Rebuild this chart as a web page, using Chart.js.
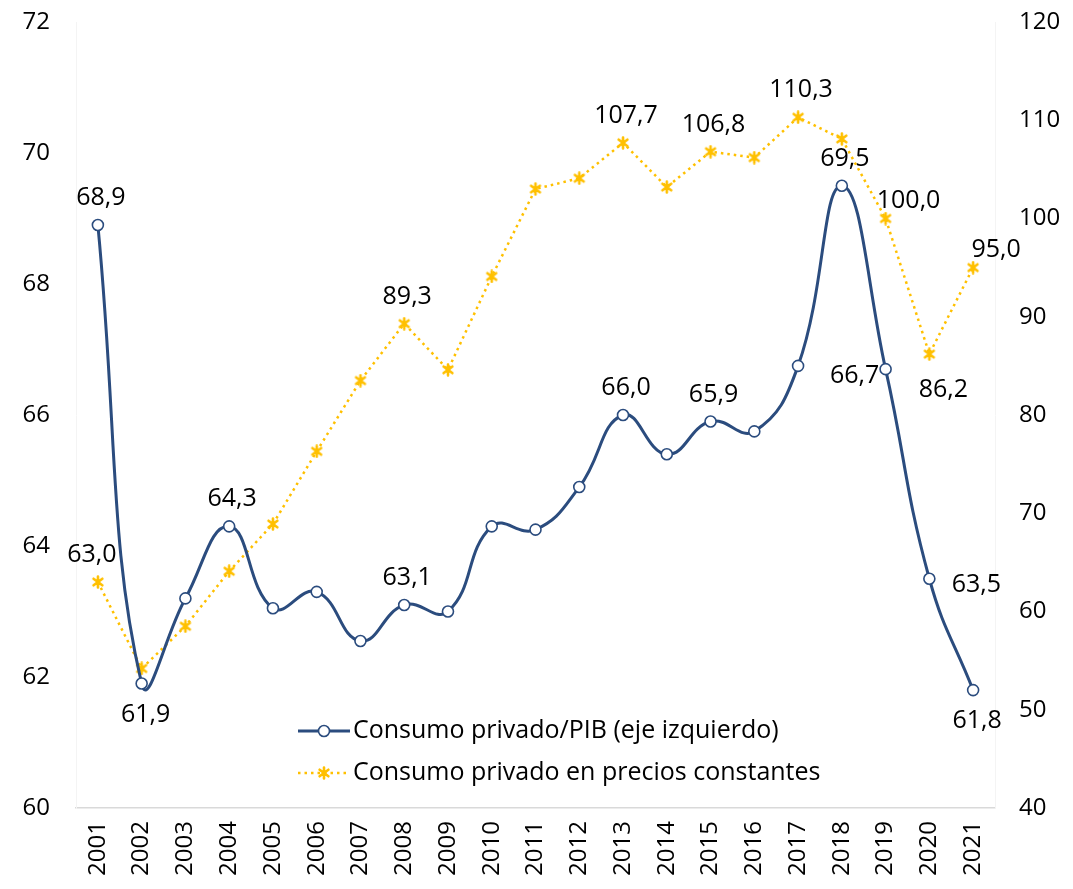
<!DOCTYPE html>
<html lang="es">
<head>
<meta charset="utf-8">
<script src="https://cdn.jsdelivr.net/npm/chart.js@4/dist/chart.umd.min.js"></script>
<style>
  html, body { margin: 0; padding: 0; background: #ffffff; }
  #wrap { width: 1073px; height: 889px; }
</style>
</head>
<body>
<div id="wrap"><canvas id="consumoChart" width="1073" height="889"></canvas></div>
<script>
// ── Datos ────────────────────────────────────────────────────
const years = ['2001','2002','2003','2004','2005','2006','2007','2008','2009','2010',
               '2011','2012','2013','2014','2015','2016','2017','2018','2019','2020','2021'];

// Consumo privado / PIB (%), eje izquierdo
const consumoPib = [68.9, 61.9, 63.2, 64.3, 63.05, 63.3, 62.55, 63.1, 63.0, 64.3,
                    64.25, 64.9, 66.0, 65.4, 65.9, 65.75, 66.75, 69.5, 66.7, 63.5, 61.8];

// Consumo privado en precios constantes (2019 = 100), eje derecho
const consumoReal = [63.0, 54.2, 58.5, 64.1, 68.9, 76.3, 83.5, 89.3, 84.6, 94.1,
                     103.0, 104.1, 107.7, 103.2, 106.8, 106.2, 110.3, 108.1, 100.0, 86.2, 95.0];

const leftTicks  = { min: 60, max: 72, step: 2 };
const rightTicks = { min: 40, max: 120, step: 10 };

const seriesNames = ['Consumo privado/PIB (eje izquierdo)',
                     'Consumo privado en precios constantes'];

// Índices con etiqueta de valor y dónde va la etiqueta
const pibLabels  = { 0: 'above', 1: 'below', 3: 'above', 7: 'above', 12: 'above',
                     14: 'above', 17: 'above', 18: 'left', 19: 'right', 20: 'below' };
const realLabels = { 0: 'aboveLeft', 7: 'above', 12: 'above', 14: 'above', 16: 'above',
                     18: 'aboveRight', 19: 'belowRight', 20: 'aboveRight' };

// ── Estilo ───────────────────────────────────────────────────
const NAVY  = '#2B4C7E';
const GOLD  = '#FFC000';
const FONT  = "'Open Sans', 'Noto Sans', sans-serif";
const fmt   = v => v.toFixed(1).replace('.', ',');

// Marcador asterisco (aspa + trazo vertical)
function starMarker(size, color) {
  const c = document.createElement('canvas');
  c.width = c.height = size;
  const g = c.getContext('2d');
  const m = size / 2, r = size / 2 - 1.5;
  g.strokeStyle = color;
  g.lineWidth = 2.6;
  g.lineCap = 'round';
  g.beginPath();
  g.moveTo(m - r * 0.8, m - r * 0.6); g.lineTo(m + r * 0.8, m + r * 0.6);
  g.moveTo(m + r * 0.8, m - r * 0.6); g.lineTo(m - r * 0.8, m + r * 0.6);
  g.moveTo(m, m - r); g.lineTo(m, m + r);
  g.stroke();
  return c;
}
const goldStar = starMarker(14, GOLD);

// Etiquetas de valor sobre los puntos
const valueLabels = {
  id: 'valueLabels',
  afterDatasetsDraw(chart) {
    const ctx = chart.ctx;
    const sets = [pibLabels, realLabels];
    ctx.save();
    ctx.font = '25px ' + FONT;
    ctx.fillStyle = '#000';
    ctx.textAlign = 'center';
    ctx.textBaseline = 'middle';
    sets.forEach((labels, di) => {
      const meta = chart.getDatasetMeta(di);
      const data = chart.data.datasets[di].data;
      Object.keys(labels).forEach(k => {
        const i = +k;
        const pt = meta.data[i];
        let dx = 0, dy = 0;
        switch (labels[k]) {
          case 'above':      dx = 3;   dy = -27; break;
          case 'aboveLeft':  dx = -6;  dy = -27; break;
          case 'below':      dx = 4;   dy = 31;  break;
          case 'left':       dx = -31; dy = 7;   break;
          case 'right':      dx = 47;  dy = 6;   break;
          case 'aboveRight': dx = 23;  dy = -18; break;
          case 'belowRight': dx = 14;  dy = 36;  break;
        }
        ctx.fillText(fmt(data[i]), pt.x + dx, pt.y + dy);
      });
    });
    ctx.restore();
  }
};

// Leyenda dentro del área del gráfico
const innerLegend = {
  id: 'innerLegend',
  afterDraw(chart) {
    const ctx = chart.ctx;
    const x0 = 298, x1 = 350, rows = [731, 773];
    ctx.save();
    chart.data.datasets.forEach((ds, i) => {
      const y = rows[i];
      ctx.strokeStyle = ds.borderColor;
      ctx.lineWidth = ds.borderWidth;
      ctx.setLineDash(ds.borderDash || []);
      ctx.beginPath();
      ctx.moveTo(x0, y);
      ctx.lineTo(x1, y);
      ctx.stroke();
      ctx.setLineDash([]);
      ctx.fillStyle = ds.pointBackgroundColor;
      ctx.strokeStyle = ds.pointBorderColor;
      ctx.lineWidth = ds.pointBorderWidth;
      Chart.helpers.drawPoint(ctx, { pointStyle: ds.pointStyle, radius: ds.pointRadius, rotation: 0, borderWidth: ds.pointBorderWidth }, (x0 + x1) / 2, y);
      ctx.fillStyle = '#000';
      ctx.font = '25px ' + FONT;
      ctx.textAlign = 'left';
      ctx.textBaseline = 'middle';
      ctx.fillText(ds.label, x1 + 3, y);
    });
    ctx.restore();
  }
};

new Chart(document.getElementById('consumoChart'), {
  type: 'line',
  data: {
    labels: years,
    datasets: [
      {
        label: seriesNames[0],
        data: consumoPib,
        yAxisID: 'y',
        borderColor: NAVY,
        borderWidth: 3,
        tension: 0.45,
        pointStyle: 'circle',
        pointRadius: 5.5,
        pointBackgroundColor: '#ffffff',
        pointBorderColor: NAVY,
        pointBorderWidth: 1.6,
        order: 1,
      },
      {
        label: seriesNames[1],
        data: consumoReal,
        yAxisID: 'y1',
        borderColor: GOLD,
        borderWidth: 2.5,
        borderDash: [2.5, 4],
        tension: 0,
        pointStyle: goldStar,
        pointRadius: 6,
        pointBackgroundColor: GOLD,
        pointBorderColor: GOLD,
        pointBorderWidth: 2.5,
        order: 2,
      },
    ],
  },
  options: {
    responsive: false,
    animation: false,
    devicePixelRatio: 1,
    layout: { padding: { top: 22, bottom: 0, left: 0, right: 0 } },
    plugins: {
      legend: { display: false },
      tooltip: { enabled: false },
    },
    scales: {
      x: {
        offset: true,
        grid: { display: false, drawTicks: false, offset: true },
        border: { display: true, color: '#D9D9D9', width: 1.5 },
        afterFit: s => { s.height = 81; },
        ticks: {
          color: '#000',
          font: { family: FONT, size: 24 },
          maxRotation: 90,
          minRotation: 90,
          padding: 13,
          autoSkip: false,
        },
      },
      // separación etiqueta-eje con tickLength (ticks ocultos) para no inflar el margen superior
      y: {
        position: 'left',
        min: leftTicks.min,
        max: leftTicks.max,
        grid: { display: false, drawTicks: true, tickLength: 26 },
        border: { display: true, color: '#F4F4F4', width: 1 },
        afterFit: s => { s.width = 76; },
        ticks: {
          stepSize: leftTicks.step,
          color: '#000',
          font: { family: FONT, size: 24 },
          padding: 0,
        },
      },
      y1: {
        position: 'right',
        min: rightTicks.min,
        max: rightTicks.max,
        grid: { display: false, drawTicks: true, tickLength: 24 },
        border: { display: true, color: '#F4F4F4', width: 1 },
        afterFit: s => { s.width = 78; },
        ticks: {
          stepSize: rightTicks.step,
          color: '#000',
          font: { family: FONT, size: 24 },
          padding: 0,
        },
      },
    },
  },
  plugins: [valueLabels, innerLegend],
});
</script>
</body>
</html>
